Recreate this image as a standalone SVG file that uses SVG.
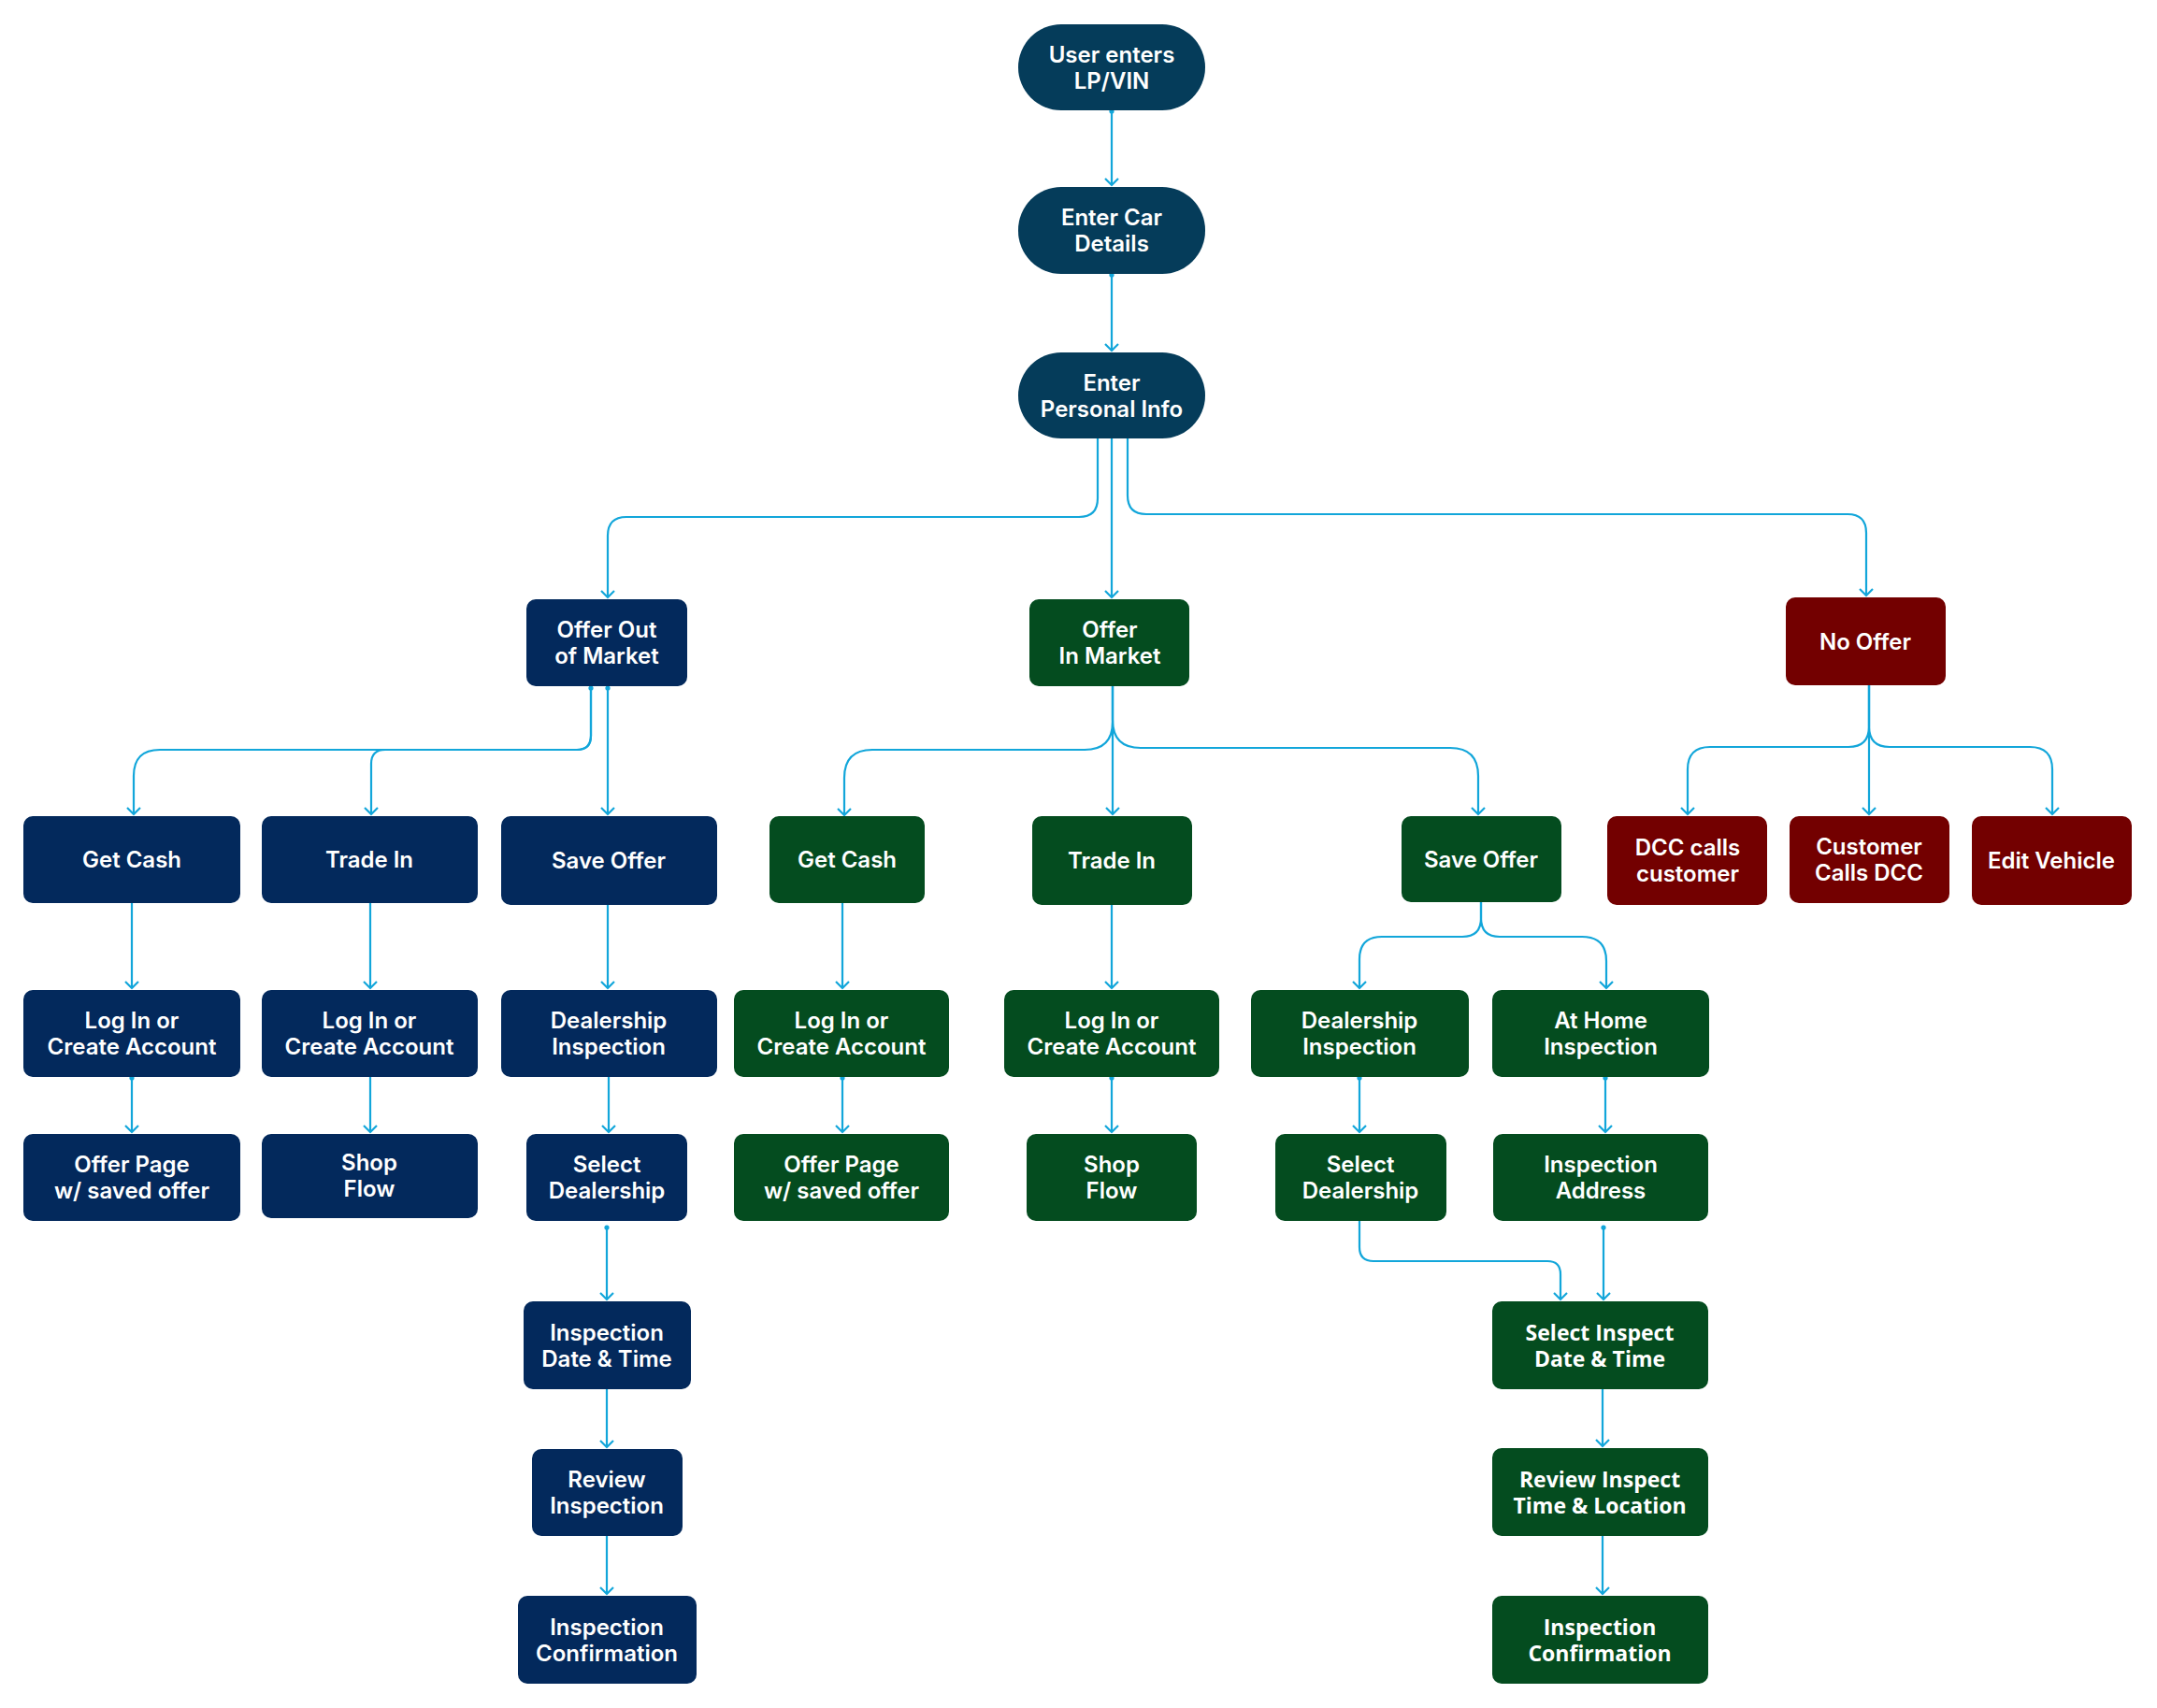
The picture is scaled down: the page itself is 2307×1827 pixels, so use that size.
<svg xmlns="http://www.w3.org/2000/svg" width="2307" height="1827" viewBox="0 0 2307 1827">
<style>
.teal{fill:#053C5A}
.navy{fill:#03295C}
.green{fill:#044C1F}
.red{fill:#730000}
text{fill:#FFFFFF;font-family:Inter,"Liberation Sans",sans-serif;font-weight:600;font-size:24px;text-anchor:middle}
text.alt{font-family:"Open Sans","Liberation Sans",sans-serif;font-weight:700;font-size:23px}
.c{fill:none;stroke:#12A6DA;stroke-width:2.2;marker-end:url(#arr)}
.d{marker-start:url(#dot)}
</style>
<defs>
<marker id="arr" markerUnits="userSpaceOnUse" markerWidth="20" markerHeight="20" refX="0" refY="0" orient="auto" overflow="visible">
<path d="M-7,-7 L0,0 L-7,7" fill="none" stroke="#12A6DA" stroke-width="2.2"/>
</marker>
<marker id="dot" markerUnits="userSpaceOnUse" markerWidth="8" markerHeight="8" refX="0" refY="0" orient="auto" overflow="visible">
<circle cx="0" cy="0" r="2.6" fill="#12A6DA"/>
</marker>
</defs>
<rect width="2307" height="1827" fill="#FFFFFF"/>

<g id="connectors">
<path class="c d" d="M1189,119 V198"/>
<path class="c d" d="M1189,294 V375"/>
<path class="c" d="M1174,469 V533 Q1174,553 1154,553 H670 Q650,553 650,573 V639"/>
<path class="c" d="M1189,469 V639"/>
<path class="c" d="M1206,469 V530 Q1206,550 1226,550 H1976 Q1996,550 1996,570 V637"/>

<path class="c d" d="M632,736 V787 Q632,802 617,802 H171 Q143,802 143,830 V871"/>
<path class="c" d="M632,736 V787 Q632,802 617,802 H412 Q397,802 397,817 V871"/>
<path class="c d" d="M650,736 V871"/>

<path class="c" d="M1190,734 V772 Q1190,802 1160,802 H933 Q903,802 903,832 V872"/>
<path class="c" d="M1190,734 V871"/>
<path class="c" d="M1190,734 V770 Q1190,800 1220,800 H1551 Q1581,800 1581,830 V871"/>

<path class="c" d="M1999,733 V777 Q1999,799 1977,799 H1829 Q1805,799 1805,823 V871"/>
<path class="c" d="M1999,733 V871"/>
<path class="c" d="M1999,733 V777 Q1999,799 2021,799 H2171 Q2195,799 2195,823 V871"/>

<path class="c" d="M141,966 V1057"/>
<path class="c d" d="M141,1153 V1211"/>
<path class="c" d="M396,966 V1057"/>
<path class="c" d="M396,1152 V1211"/>
<path class="c" d="M650,968 V1057"/>
<path class="c" d="M651,1152 V1211"/>
<path class="c d" d="M649,1313 V1390"/>
<path class="c" d="M649,1486 V1548"/>
<path class="c" d="M649,1643 V1705"/>

<path class="c" d="M901,965 V1057"/>
<path class="c d" d="M901,1153 V1211"/>
<path class="c" d="M1189,968 V1057"/>
<path class="c d" d="M1189,1153 V1211"/>
<path class="c" d="M1584,965 V982 Q1584,1002 1564,1002 H1478 Q1454,1002 1454,1026 V1057"/>
<path class="c" d="M1584,965 V982 Q1584,1002 1604,1002 H1692 Q1718,1002 1718,1028 V1057"/>
<path class="c d" d="M1454,1153 V1211"/>
<path class="c d" d="M1717,1153 V1211"/>
<path class="c" d="M1454,1306 V1334 Q1454,1349 1469,1349 H1655 Q1669,1349 1669,1363 V1390"/>
<path class="c d" d="M1715,1313 V1390"/>
<path class="c" d="M1714,1486 V1547"/>
<path class="c" d="M1714,1643 V1705"/>
</g>

<g id="n-user-enters"><rect class="teal" x="1089" y="26" width="200" height="92" rx="46"/><text x="1189" y="66.5">User enters</text><text x="1189" y="94.5">LP/VIN</text></g>
<g id="n-enter-car"><rect class="teal" x="1089" y="200" width="200" height="93" rx="46"/><text x="1189" y="241">Enter Car</text><text x="1189" y="269">Details</text></g>
<g id="n-enter-personal"><rect class="teal" x="1089" y="377" width="200" height="92" rx="46"/><text x="1189" y="417.5">Enter</text><text x="1189" y="445.5">Personal Info</text></g>

<g id="n-offer-out"><rect class="navy" x="563" y="641" width="172" height="93" rx="10"/><text x="649" y="682">Offer Out</text><text x="649" y="710">of Market</text></g>
<g id="n-offer-in"><rect class="green" x="1101" y="641" width="171" height="93" rx="10"/><text x="1187" y="682">Offer</text><text x="1187" y="710">In Market</text></g>
<g id="n-no-offer"><rect class="red" x="1910" y="639" width="171" height="94" rx="10"/><text x="1995" y="694.5">No Offer</text></g>

<g id="n-b-getcash"><rect class="navy" x="25" y="873" width="232" height="93" rx="10"/><text x="141" y="928">Get Cash</text></g>
<g id="n-b-tradein"><rect class="navy" x="280" y="873" width="231" height="93" rx="10"/><text x="395" y="928">Trade In</text></g>
<g id="n-b-saveoffer"><rect class="navy" x="536" y="873" width="231" height="95" rx="10"/><text x="651" y="929">Save Offer</text></g>
<g id="n-g-getcash"><rect class="green" x="823" y="873" width="166" height="93" rx="10"/><text x="906" y="928">Get Cash</text></g>
<g id="n-g-tradein"><rect class="green" x="1104" y="873" width="171" height="95" rx="10"/><text x="1189" y="929">Trade In</text></g>
<g id="n-g-saveoffer"><rect class="green" x="1499" y="873" width="171" height="92" rx="10"/><text x="1584" y="927.5">Save Offer</text></g>
<g id="n-r-dcc"><rect class="red" x="1719" y="873" width="171" height="95" rx="10"/><text x="1805" y="915">DCC calls</text><text x="1805" y="943">customer</text></g>
<g id="n-r-customer"><rect class="red" x="1914" y="873" width="171" height="93" rx="10"/><text x="1999" y="914">Customer</text><text x="1999" y="942">Calls DCC</text></g>
<g id="n-r-edit"><rect class="red" x="2109" y="873" width="171" height="95" rx="10"/><text x="2194" y="929">Edit Vehicle</text></g>

<g id="n-b-login1"><rect class="navy" x="25" y="1059" width="232" height="93" rx="10"/><text x="141" y="1100">Log In or</text><text x="141" y="1128">Create Account</text></g>
<g id="n-b-login2"><rect class="navy" x="280" y="1059" width="231" height="93" rx="10"/><text x="395" y="1100">Log In or</text><text x="395" y="1128">Create Account</text></g>
<g id="n-b-dealinsp"><rect class="navy" x="536" y="1059" width="231" height="93" rx="10"/><text x="651" y="1100">Dealership</text><text x="651" y="1128">Inspection</text></g>
<g id="n-g-login1"><rect class="green" x="785" y="1059" width="230" height="93" rx="10"/><text x="900" y="1100">Log In or</text><text x="900" y="1128">Create Account</text></g>
<g id="n-g-login2"><rect class="green" x="1074" y="1059" width="230" height="93" rx="10"/><text x="1189" y="1100">Log In or</text><text x="1189" y="1128">Create Account</text></g>
<g id="n-g-dealinsp"><rect class="green" x="1338" y="1059" width="233" height="93" rx="10"/><text x="1454" y="1100">Dealership</text><text x="1454" y="1128">Inspection</text></g>
<g id="n-g-athome"><rect class="green" x="1596" y="1059" width="232" height="93" rx="10"/><text x="1712" y="1100">At Home</text><text x="1712" y="1128">Inspection</text></g>

<g id="n-b-offerpage"><rect class="navy" x="25" y="1213" width="232" height="93" rx="10"/><text x="141" y="1254">Offer Page</text><text x="141" y="1282">w/ saved offer</text></g>
<g id="n-b-shopflow"><rect class="navy" x="280" y="1213" width="231" height="90" rx="10"/><text x="395" y="1252">Shop</text><text x="395" y="1280">Flow</text></g>
<g id="n-b-selectdeal"><rect class="navy" x="563" y="1213" width="172" height="93" rx="10"/><text x="649" y="1254">Select</text><text x="649" y="1282">Dealership</text></g>
<g id="n-g-offerpage"><rect class="green" x="785" y="1213" width="230" height="93" rx="10"/><text x="900" y="1254">Offer Page</text><text x="900" y="1282">w/ saved offer</text></g>
<g id="n-g-shopflow"><rect class="green" x="1098" y="1213" width="182" height="93" rx="10"/><text x="1189" y="1254">Shop</text><text x="1189" y="1282">Flow</text></g>
<g id="n-g-selectdeal"><rect class="green" x="1364" y="1213" width="183" height="93" rx="10"/><text x="1455" y="1254">Select</text><text x="1455" y="1282">Dealership</text></g>
<g id="n-g-inspaddr"><rect class="green" x="1597" y="1213" width="230" height="93" rx="10"/><text x="1712" y="1254">Inspection</text><text x="1712" y="1282">Address</text></g>

<g id="n-b-inspdate"><rect class="navy" x="560" y="1392" width="179" height="94" rx="10"/><text x="649" y="1433.5">Inspection</text><text x="649" y="1461.5">Date &amp; Time</text></g>
<g id="n-g-selinsp"><rect class="green" x="1596" y="1392" width="231" height="94" rx="10"/><text class="alt" x="1711" y="1433.5">Select Inspect</text><text class="alt" x="1711" y="1461.5">Date &amp; Time</text></g>

<g id="n-b-review"><rect class="navy" x="569" y="1550" width="161" height="93" rx="10"/><text x="649" y="1591">Review</text><text x="649" y="1619">Inspection</text></g>
<g id="n-g-review"><rect class="green" x="1596" y="1549" width="231" height="94" rx="10"/><text class="alt" x="1711" y="1590.5">Review Inspect</text><text class="alt" x="1711" y="1618.5">Time &amp; Location</text></g>

<g id="n-b-confirm"><rect class="navy" x="554" y="1707" width="191" height="94" rx="10"/><text x="649" y="1748.5">Inspection</text><text x="649" y="1776.5">Confirmation</text></g>
<g id="n-g-confirm"><rect class="green" x="1596" y="1707" width="231" height="94" rx="10"/><text class="alt" x="1711" y="1748.5">Inspection</text><text class="alt" x="1711" y="1776.5">Confirmation</text></g>
</svg>
